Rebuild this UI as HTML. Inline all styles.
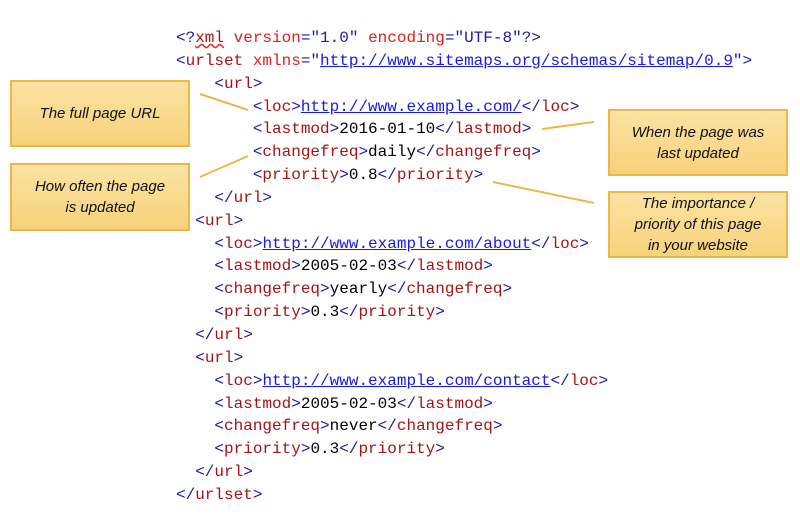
<!DOCTYPE html>
<html><head><meta charset="utf-8"><style>
body{margin:0;width:800px;height:529px;background:#fff;position:relative;overflow:hidden}
pre{position:absolute;left:176px;top:27px;margin:0;font-family:"Liberation Mono",monospace;font-size:16px;line-height:22.85px;color:#000}
.b{color:#1a1aa6}.t{color:#a31515}.a{color:#e0201c}.u{color:#1a1ae0;text-decoration:underline}
.box{position:absolute;width:180px;background:linear-gradient(#fbe3a3,#f7d27a);border:2px solid #eab84a;box-sizing:border-box;display:flex;align-items:center;justify-content:center;text-align:center;font-family:"Liberation Sans",sans-serif;font-style:italic;font-size:15px;line-height:21px;color:#111}
svg{position:absolute;left:0;top:0}
</style></head><body>
<pre><span class="b">&lt;?</span><span class="t" style="text-decoration:underline wavy #d33">xml</span> <span class="a">version</span><span class="b">="1.0"</span> <span class="a">encoding</span><span class="b">="UTF-8"?&gt;</span>
<span class="b">&lt;</span><span class="t">urlset</span> <span class="a">xmlns</span><span class="b">="</span><span class="u">http://www.sitemaps.org/schemas/sitemap/0.9</span><span class="b">"&gt;</span>
    <span class="b">&lt;</span><span class="t">url</span><span class="b">&gt;</span>
        <span class="b">&lt;</span><span class="t">loc</span><span class="b">&gt;</span><span class="u">http://www.example.com/</span><span class="b">&lt;/</span><span class="t">loc</span><span class="b">&gt;</span>
        <span class="b">&lt;</span><span class="t">lastmod</span><span class="b">&gt;</span>2016-01-10<span class="b">&lt;/</span><span class="t">lastmod</span><span class="b">&gt;</span>
        <span class="b">&lt;</span><span class="t">changefreq</span><span class="b">&gt;</span>daily<span class="b">&lt;/</span><span class="t">changefreq</span><span class="b">&gt;</span>
        <span class="b">&lt;</span><span class="t">priority</span><span class="b">&gt;</span>0.8<span class="b">&lt;/</span><span class="t">priority</span><span class="b">&gt;</span>
    <span class="b">&lt;/</span><span class="t">url</span><span class="b">&gt;</span>
  <span class="b">&lt;</span><span class="t">url</span><span class="b">&gt;</span>
    <span class="b">&lt;</span><span class="t">loc</span><span class="b">&gt;</span><span class="u">http://www.example.com/about</span><span class="b">&lt;/</span><span class="t">loc</span><span class="b">&gt;</span>
    <span class="b">&lt;</span><span class="t">lastmod</span><span class="b">&gt;</span>2005-02-03<span class="b">&lt;/</span><span class="t">lastmod</span><span class="b">&gt;</span>
    <span class="b">&lt;</span><span class="t">changefreq</span><span class="b">&gt;</span>yearly<span class="b">&lt;/</span><span class="t">changefreq</span><span class="b">&gt;</span>
    <span class="b">&lt;</span><span class="t">priority</span><span class="b">&gt;</span>0.3<span class="b">&lt;/</span><span class="t">priority</span><span class="b">&gt;</span>
  <span class="b">&lt;/</span><span class="t">url</span><span class="b">&gt;</span>
  <span class="b">&lt;</span><span class="t">url</span><span class="b">&gt;</span>
    <span class="b">&lt;</span><span class="t">loc</span><span class="b">&gt;</span><span class="u">http://www.example.com/contact</span><span class="b">&lt;/</span><span class="t">loc</span><span class="b">&gt;</span>
    <span class="b">&lt;</span><span class="t">lastmod</span><span class="b">&gt;</span>2005-02-03<span class="b">&lt;/</span><span class="t">lastmod</span><span class="b">&gt;</span>
    <span class="b">&lt;</span><span class="t">changefreq</span><span class="b">&gt;</span>never<span class="b">&lt;/</span><span class="t">changefreq</span><span class="b">&gt;</span>
    <span class="b">&lt;</span><span class="t">priority</span><span class="b">&gt;</span>0.3<span class="b">&lt;/</span><span class="t">priority</span><span class="b">&gt;</span>
  <span class="b">&lt;/</span><span class="t">url</span><span class="b">&gt;</span>
<span class="b">&lt;/</span><span class="t">urlset</span><span class="b">&gt;</span></pre>
<svg width="800" height="529"><g stroke="#eab84a" stroke-width="2"><line x1="200" y1="94" x2="248" y2="110"/><line x1="200" y1="177" x2="248" y2="156"/><line x1="542" y1="129" x2="594" y2="122"/><line x1="493" y1="182" x2="594" y2="203"/></g></svg>
<div class="box" style="left:10px;top:80px;height:67px">The full page URL</div>
<div class="box" style="left:10px;top:163px;height:68px">How often the page<br>is updated</div>
<div class="box" style="left:608px;top:109px;height:67px">When the page was<br>last updated</div>
<div class="box" style="left:608px;top:191px;height:67px">The importance /<br>priority of this page<br>in your website</div>
</body></html>
